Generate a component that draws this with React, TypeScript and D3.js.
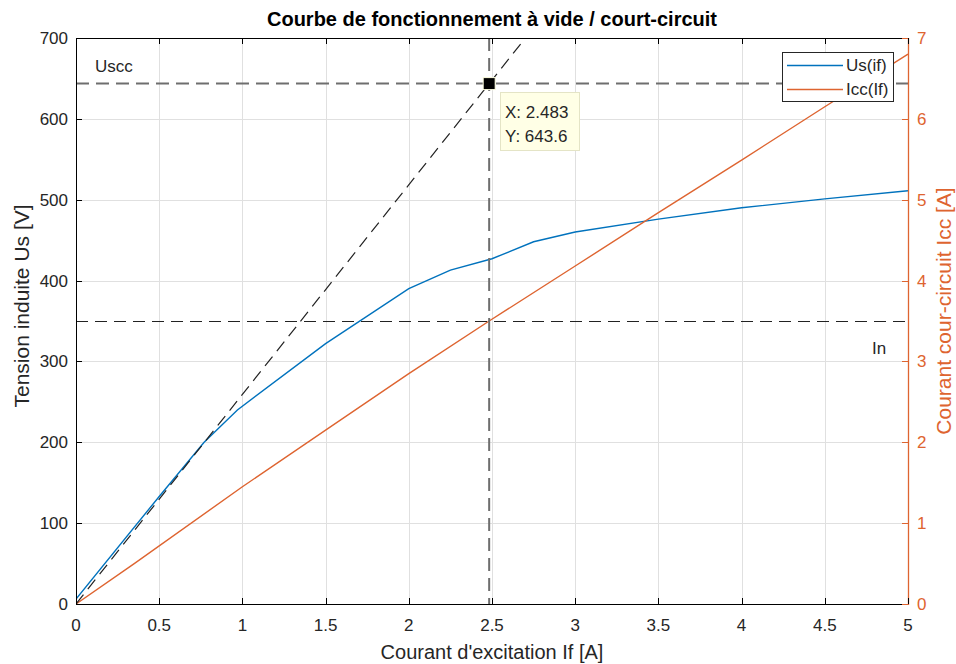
import React from 'react';
import * as d3 from 'd3';

// Excitation current sweep for the open-circuit voltage curve
const ifOpen = [0, 0.5, 0.77, 0.97, 1.5, 2.0, 2.25, 2.5, 2.75, 3.0, 3.5, 4.0, 4.5, 5.0];
const usOpen = [6, 133, 200, 240, 322, 390, 413, 427, 448, 460, 476, 490, 501, 511];

// Excitation current sweep for the short-circuit current curve
const ifShort = [0, 0.35, 1.0, 1.5, 2.0, 2.483, 3.0, 3.5, 4.0, 4.5, 5.0];
const iccShort = [0, 0.5, 1.45, 2.15, 2.85, 3.5, 4.18, 4.84, 5.49, 6.15, 6.8];

const xTicks = [0, 0.5, 1, 1.5, 2, 2.5, 3, 3.5, 4, 4.5, 5];
const xTickLabels = ['0', '0.5', '1', '1.5', '2', '2.5', '3', '3.5', '4', '4.5', '5'];
const usTicks = [0, 100, 200, 300, 400, 500, 600, 700];
const iccTicks = [0, 1, 2, 3, 4, 5, 6, 7];

// Data cursor and reference levels
const cursorIf = 2.483;
const cursorUs = 643.6;
const inLevelUs = 350;

const W = 956;
const H = 664;
const left = 76;
const right = 908;
const top = 38;
const bottom = 604;

const BLUE = '#0072BD';
const ORANGE = '#DE6430';
const TXT = '#262626';
const FONT = '"Liberation Sans", Arial, Helvetica, sans-serif';

const crisp = (v: number) => Math.round(v) + 0.5;

export default function App() {
  const x = d3.scaleLinear().domain([0, 5]).range([left, right]);
  const yU = d3.scaleLinear().domain([0, 700]).range([bottom, top]);
  const yI = d3.scaleLinear().domain([0, 7]).range([bottom, top]);

  const lineU = d3
    .line<number>()
    .x((_, i) => x(ifOpen[i]))
    .y((d) => yU(d));
  const lineI = d3
    .line<number>()
    .x((_, i) => x(ifShort[i]))
    .y((d) => yI(d));

  // Air-gap line through the origin and the data cursor point
  const slope = cursorUs / cursorIf;
  const tangentEnd = 700 / slope;

  const tick = 6;
  const tickFont = 17;

  return (
    <svg
      width={W}
      height={H}
      style={{ position: 'absolute', left: 0, top: 0, background: '#fff' }}
      fontFamily={FONT}
    >
      <defs>
        <clipPath id="plot">
          <rect x={left} y={top} width={right - left} height={bottom - top} />
        </clipPath>
      </defs>

      {/* grid */}
      <g stroke="#e0e0e0" strokeWidth={1}>
        {xTicks.slice(1, -1).map((t) => (
          <line key={'gx' + t} x1={crisp(x(t))} x2={crisp(x(t))} y1={top} y2={bottom} />
        ))}
        {usTicks.slice(1, -1).map((t) => (
          <line key={'gy' + t} x1={left} x2={right} y1={crisp(yU(t))} y2={crisp(yU(t))} />
        ))}
      </g>

      <g clipPath="url(#plot)">
        {/* curves */}
        <path d={lineU(usOpen) || ''} fill="none" stroke={BLUE} strokeWidth={1.4} />
        <path d={lineI(iccShort) || ''} fill="none" stroke={ORANGE} strokeWidth={1.4} />

        {/* air-gap line */}
        <line
          x1={x(0)}
          y1={yU(0)}
          x2={x(tangentEnd)}
          y2={yU(700)}
          stroke="#222"
          strokeWidth={1.2}
          strokeDasharray="12,7"
        />
        {/* rated current level */}
        <line
          x1={left}
          x2={right}
          y1={crisp(yU(inLevelUs))}
          y2={crisp(yU(inLevelUs))}
          stroke="#222"
          strokeWidth={1}
          strokeDasharray="12,7"
        />
        {/* Uscc level and cursor vertical */}
        <line
          x1={left}
          x2={right}
          y1={yU(cursorUs)}
          y2={yU(cursorUs)}
          stroke="#6e6e6e"
          strokeWidth={2}
          strokeDasharray="13,7"
        />
        <line
          x1={x(cursorIf)}
          x2={x(cursorIf)}
          y1={top}
          y2={bottom}
          stroke="#6e6e6e"
          strokeWidth={2}
          strokeDasharray="13,7"
        />
      </g>

      <text x={95} y={72} fontSize={17} fill={TXT}>
        Uscc
      </text>
      <text x={872} y={354} fontSize={17} fill={TXT}>
        In
      </text>

      {/* axes box */}
      <line x1={left} x2={right} y1={crisp(top)} y2={crisp(top)} stroke="#000" strokeWidth={1} />
      <line x1={left} x2={right} y1={crisp(bottom)} y2={crisp(bottom)} stroke="#000" strokeWidth={1} />
      <line x1={crisp(left)} x2={crisp(left)} y1={top} y2={bottom} stroke="#000" strokeWidth={1} />
      <line x1={crisp(right)} x2={crisp(right)} y1={top} y2={bottom + 1} stroke={ORANGE} strokeWidth={1.3} />

      {/* x ticks */}
      {xTicks.map((t, i) => (
        <g key={'xt' + t}>
          <line x1={crisp(x(t))} x2={crisp(x(t))} y1={bottom} y2={bottom - tick} stroke="#000" />
          <line x1={crisp(x(t))} x2={crisp(x(t))} y1={top} y2={top + tick} stroke="#000" />
          <text x={x(t)} y={631} fontSize={tickFont} fill={TXT} textAnchor="middle">
            {xTickLabels[i]}
          </text>
        </g>
      ))}

      {/* left ticks */}
      {usTicks.map((t) => (
        <g key={'yu' + t}>
          <line x1={left} x2={left + tick} y1={crisp(yU(t))} y2={crisp(yU(t))} stroke="#000" />
          <text x={68} y={yU(t) + 6} fontSize={tickFont} fill={TXT} textAnchor="end">
            {t}
          </text>
        </g>
      ))}

      {/* right ticks */}
      {iccTicks.map((t) => (
        <g key={'yi' + t}>
          <line x1={right} x2={right - tick} y1={crisp(yI(t))} y2={crisp(yI(t))} stroke={ORANGE} />
          <text x={917} y={yI(t) + 6} fontSize={tickFont} fill={ORANGE}>
            {t}
          </text>
        </g>
      ))}

      {/* titles */}
      <text x={(left + right) / 2} y={26} fontSize={20} fontWeight="bold" fill="#000" textAnchor="middle">
        Courbe de fonctionnement à vide / court-circuit
      </text>
      <text x={(left + right) / 2} y={659} fontSize={20} fill={TXT} textAnchor="middle">
        Courant d'excitation If [A]
      </text>
      <text
        transform={`translate(29,${(top + bottom) / 2 - 15}) rotate(-90)`}
        fontSize={21}
        fill={TXT}
        textAnchor="middle"
      >
        Tension induite Us [V]
      </text>
      <text
        transform={`translate(951,${(top + bottom) / 2 - 10}) rotate(-90)`}
        fontSize={21}
        fill={ORANGE}
        textAnchor="middle"
      >
        Courant cour-circuit Icc [A]
      </text>

      {/* legend */}
      <g>
        <rect x={782.5} y={52.5} width={111} height={49} fill="#fff" stroke="#262626" strokeWidth={1} />
        <line x1={787} x2={843} y1={65.5} y2={65.5} stroke={BLUE} strokeWidth={1.4} />
        <text x={846} y={71} fontSize={17} fill={TXT}>
          Us(if)
        </text>
        <line x1={787} x2={843} y1={89.5} y2={89.5} stroke={ORANGE} strokeWidth={1.4} />
        <text x={846} y={95} fontSize={17} fill={TXT}>
          Icc(If)
        </text>
      </g>

      {/* data cursor */}
      <rect
        x={x(cursorIf) - 6}
        y={yU(cursorUs) - 6}
        width={12}
        height={12}
        fill="#000"
        stroke="#ffffe0"
        strokeWidth={1}
      />
      <g>
        <rect x={500.5} y={92.5} width={79} height={58} fill="#ffffe6" stroke="#e4e4c6" strokeWidth={1} />
        <text x={505} y={118} fontSize={17} fill={TXT}>
          X: {cursorIf}
        </text>
        <text x={505} y={142} fontSize={17} fill={TXT}>
          Y: {cursorUs}
        </text>
      </g>
    </svg>
  );
}
